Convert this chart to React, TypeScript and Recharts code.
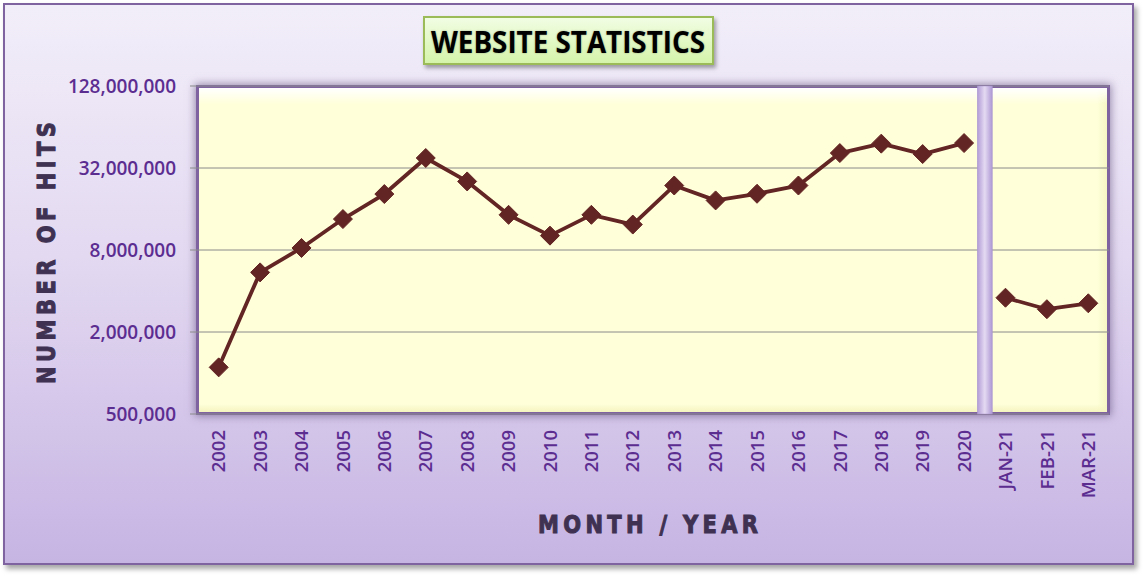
import React from 'react';
import { LineChart, Line, XAxis, YAxis, CartesianGrid, ReferenceLine } from 'recharts';

const yearLabels = ['2002', '2003', '2004', '2005', '2006', '2007', '2008', '2009', '2010', '2011', '2012', '2013', '2014', '2015', '2016', '2017', '2018', '2019', '2020'];
const yearHits = [1100000, 5480000, 8280000, 13500000, 20600000, 37900000, 25500000, 14500000, 10200000, 14500000, 12300000, 23800000, 18500000, 20700000, 23800000, 41200000, 48300000, 40500000, 48800000];
const monthLabels = ['JAN-21', 'FEB-21', 'MAR-21'];
const monthHits = [3570000, 2940000, 3250000];
const yTicks = [500000, 2000000, 8000000, 32000000, 128000000];
const separatorAfter = '2020';

const data = [
  ...yearLabels.map((label, i) => ({ label, years: yearHits[i], months: null as number | null })),
  ...monthLabels.map((label, i) => ({ label, years: null as number | null, months: monthHits[i] })),
];

const LINE_COLOR = '#632523';
const TICK_COLOR = '#5c2d91';
const TITLE_COLOR = '#3f3151';

const Diamond = (props: any) => {
  const { cx, cy, value } = props;
  if (value == null || cx == null || cy == null || isNaN(cx) || isNaN(cy)) return <g />;
  const r = 9.5;
  return (
    <polygon
      points={`${cx},${cy - r} ${cx + r},${cy} ${cx},${cy + r} ${cx - r},${cy}`}
      fill={LINE_COLOR}
      stroke={LINE_COLOR}
      strokeWidth={1}
      strokeLinejoin="miter"
    />
  );
};

const XTick = (props: any) => {
  const { x, y, payload } = props;
  return (
    <g transform={`translate(${x},${y})`}>
      <text
        transform="rotate(-90)"
        textAnchor="end"
        dy="0.36em"
        fill={TICK_COLOR}
        fontSize={18.5}
        fontWeight={600}
        fontFamily="'Open Sans', sans-serif"
      >
        {payload.value}
      </text>
    </g>
  );
};

const SepShape = (props: any) => {
  const { x1, y1, y2 } = props;
  const top = Math.min(y1, y2);
  const h = Math.abs(y2 - y1);
  return <rect x={x1 - 7.5} y={top} width={15} height={h} fill="url(#sepGrad)" stroke="#a893cf" strokeWidth={0.5} />;
};

const fmt = (v: number) => v.toLocaleString('en-US');

export default function App() {
  return (
    <div style={{ position: 'absolute', left: 0, top: 0, width: 1146, height: 578, overflow: 'hidden' }}>
      <svg width={0} height={0} style={{ position: 'absolute' }}>
        <defs>
          <linearGradient id="sepGrad" x1="0" y1="0" x2="1" y2="0">
            <stop offset="0%" stopColor="#b19bd6" />
            <stop offset="50%" stopColor="#e4daf2" />
            <stop offset="100%" stopColor="#ad97d4" />
          </linearGradient>
        </defs>
      </svg>
      {/* outer chart frame */}
      <div
        style={{
          position: 'absolute',
          left: 3,
          top: 3,
          width: 1131,
          height: 562,
          boxSizing: 'border-box',
          border: '2px solid #7f63a1',
          background: 'linear-gradient(to bottom, #f2eef9 0%, #e3d9f1 45%, #c6b4e3 100%)',
          boxShadow: '3px 4px 5px rgba(0,0,0,0.35)',
        }}
      />
      {/* plot area box */}
      <div
        style={{
          position: 'absolute',
          left: 196,
          top: 85,
          width: 914,
          height: 330,
          boxSizing: 'border-box',
          border: '3px solid #7f63a1',
          background:
            'linear-gradient(to bottom, #ffffff 0px, rgba(255,255,218,0) 16px), linear-gradient(to left, #f6f6c4 0px, rgba(255,255,218,0) 10px), linear-gradient(to top, #f4f4bf 0px, rgba(255,255,218,0) 8px), #ffffda',
          boxShadow: '0 0 8px 1px rgba(80,60,110,0.55)',
        }}
      />
      {/* title box */}
      <div
        style={{
          position: 'absolute',
          left: 423,
          top: 16,
          width: 291,
          height: 49,
          boxSizing: 'border-box',
          border: '2px solid #9bbb59',
          background: 'linear-gradient(to bottom, #f1fde3 0%, #d5f4aa 100%)',
          boxShadow: '2px 3px 4px rgba(0,0,0,0.35)',
        }}
      />
      <div style={{ position: 'absolute', left: 0, top: 0 }}>
        <LineChart width={1146} height={578} data={data} margin={{ top: 86, right: 37, left: 0, bottom: 0 }}>
          <CartesianGrid horizontal vertical={false} stroke="#8a8a8a" strokeWidth={1} />
          <XAxis
            dataKey="label"
            scale="band"
            interval={0}
            height={164}
            tickLine={false}
            axisLine={false}
            tickSize={0}
            tickMargin={16}
            tick={<XTick />}
          />
          <YAxis
            type="number"
            scale="log"
            domain={[500000, 128000000]}
            ticks={yTicks}
            allowDataOverflow
            width={198}
            axisLine={false}
            tickLine={{ stroke: '#8a8a8a' }}
            tickSize={8}
            tickMargin={14}
            tickFormatter={fmt}
            tick={{ fill: TICK_COLOR, fontSize: 19, fontWeight: 600, fontFamily: "'Open Sans', sans-serif" }}
          />
          <ReferenceLine x={separatorAfter} position="end" shape={<SepShape />} />
          <Line
            type="linear"
            dataKey="years"
            stroke={LINE_COLOR}
            strokeWidth={3.8}
            strokeLinejoin="round"
            dot={<Diamond />}
            activeDot={false}
            connectNulls={false}
            isAnimationActive={false}
          />
          <Line
            type="linear"
            dataKey="months"
            stroke={LINE_COLOR}
            strokeWidth={3.8}
            strokeLinejoin="round"
            dot={<Diamond />}
            activeDot={false}
            connectNulls={false}
            isAnimationActive={false}
          />
        </LineChart>
      </div>
      {/* titles */}
      <svg width={1146} height={578} style={{ position: 'absolute', left: 0, top: 0, pointerEvents: 'none' }}>
        <text
          x={568}
          y={41}
          textAnchor="middle"
          dominantBaseline="central"
          fontFamily="'Open Sans', sans-serif"
          fontWeight={700}
          fontSize={30}
          fill="#000000"
          textLength={274}
          lengthAdjust="spacingAndGlyphs"
          style={{ textShadow: '0 0 2px rgba(0,0,0,0.35)' }}
        >
          WEBSITE STATISTICS
        </text>
        <g transform="translate(46,253) rotate(-90) scale(1,1.2)">
          <text
            x={0}
            y={0}
            textAnchor="middle"
            dominantBaseline="central"
            fontFamily="'DejaVu Sans', sans-serif"
            fontWeight={700}
            fontSize={21}
            fill={TITLE_COLOR}
            stroke={TITLE_COLOR}
            strokeWidth={0.9}
            textLength={262}
            lengthAdjust="spacing"
          >
            NUMBER OF HITS
          </text>
        </g>
        <g transform="translate(648,524) scale(1,1.2)">
          <text
            x={0}
            y={0}
            textAnchor="middle"
            dominantBaseline="central"
            fontFamily="'DejaVu Sans', sans-serif"
            fontWeight={700}
            fontSize={21}
            fill={TITLE_COLOR}
            stroke={TITLE_COLOR}
            strokeWidth={0.9}
            textLength={220}
            lengthAdjust="spacing"
          >
            MONTH / YEAR
          </text>
        </g>
      </svg>
    </div>
  );
}
